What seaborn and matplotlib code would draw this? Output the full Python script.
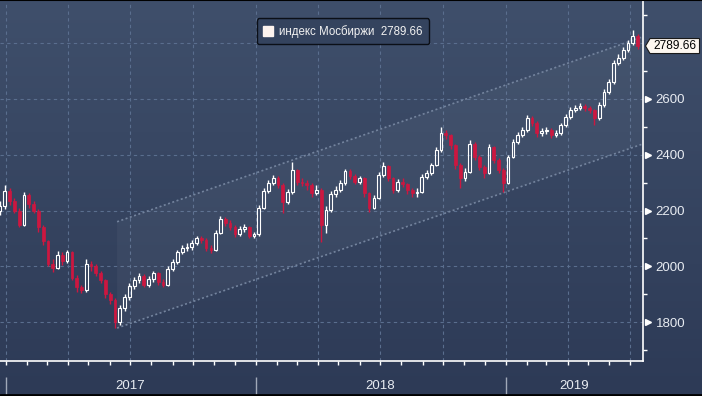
import numpy as np
import pandas as pd
import matplotlib
matplotlib.use('Agg')
import matplotlib.pyplot as plt
import matplotlib.dates as mdates
from matplotlib.lines import Line2D
from matplotlib.patches import Polygon
from matplotlib.colors import LinearSegmentedColormap
from matplotlib.ticker import MultipleLocator, FixedLocator
from matplotlib.transforms import IdentityTransform
import seaborn as sns

# weekly candles of the MOEX index
first_week = '2016-12-23'
first_open = 2200
close = [2215, 2270, 2235, 2200, 2150, 2255, 2225, 2200, 2140, 2090,
         2010, 1995, 2040, 2020, 2050, 1960, 1925, 1915, 2010, 2000,
         1975, 1950, 1900, 1880, 1800, 1850, 1890, 1930, 1950, 1965,
         1935, 1955, 1975, 1945, 1935, 1990, 2015, 2050, 2065, 2070,
         2085, 2100, 2095, 2065, 2060, 2120, 2170, 2155, 2140, 2115,
         2135, 2140, 2110, 2115, 2210, 2270, 2300, 2317, 2292, 2230,
         2267, 2346, 2303, 2300, 2290, 2263, 2274, 2150, 2202, 2260,
         2275, 2299, 2342, 2324, 2303, 2317, 2263, 2210, 2245, 2328,
         2360, 2317, 2274, 2303, 2295, 2274, 2263, 2268, 2320, 2335,
         2363, 2417, 2478, 2470, 2435, 2363, 2317, 2340, 2440, 2392,
         2356, 2335, 2428, 2381, 2346, 2300, 2392, 2446, 2470, 2489,
         2532, 2514, 2478, 2485, 2490, 2471, 2478, 2507, 2535, 2560,
         2568, 2575, 2568, 2560, 2530, 2578, 2625, 2660, 2730, 2747,
         2776, 2800, 2825, 2789.66]
high = [2235, 2292, 2280, 2245, 2210, 2267, 2262, 2235, 2205, 2148,
        2095, 2025, 2055, 2050, 2060, 2055, 1970, 1935, 2025, 2020,
        2010, 1985, 1955, 1910, 1885, 1860, 1900, 1940, 1962, 1975,
        1972, 1965, 1985, 1980, 1955, 2000, 2025, 2060, 2075, 2085,
        2095, 2110, 2108, 2100, 2075, 2130, 2180, 2178, 2165, 2148,
        2145, 2152, 2145, 2122, 2220, 2280, 2310, 2328, 2325, 2298,
        2278, 2374, 2350, 2318, 2310, 2298, 2290, 2280, 2215, 2270,
        2288, 2310, 2350, 2348, 2330, 2325, 2320, 2268, 2255, 2338,
        2374, 2365, 2322, 2312, 2315, 2300, 2282, 2280, 2330, 2345,
        2372, 2428, 2500, 2490, 2475, 2440, 2370, 2352, 2453, 2445,
        2398, 2362, 2438, 2432, 2388, 2352, 2400, 2455, 2480, 2498,
        2542, 2538, 2520, 2495, 2500, 2495, 2488, 2515, 2545, 2570,
        2580, 2585, 2582, 2575, 2565, 2588, 2635, 2670, 2740, 2760,
        2785, 2812, 2847, 2832]
low = [2185, 2205, 2220, 2190, 2141, 2145, 2210, 2190, 2125, 2075,
       2000, 1980, 1990, 2005, 2012, 1950, 1910, 1905, 1910, 1985,
       1965, 1940, 1885, 1865, 1779, 1790, 1840, 1880, 1920, 1940,
       1925, 1925, 1945, 1935, 1925, 1930, 1985, 2010, 2045, 2055,
       2060, 2078, 2085, 2055, 2048, 2055, 2115, 2145, 2130, 2105,
       2108, 2125, 2100, 2100, 2110, 2205, 2262, 2290, 2280, 2191,
       2222, 2260, 2290, 2288, 2275, 2250, 2255, 2087, 2120, 2195,
       2250, 2268, 2292, 2312, 2295, 2295, 2250, 2195, 2205, 2240,
       2320, 2305, 2262, 2268, 2285, 2260, 2250, 2250, 2262, 2312,
       2328, 2358, 2410, 2455, 2420, 2350, 2281, 2305, 2335, 2380,
       2345, 2315, 2330, 2370, 2335, 2267, 2295, 2388, 2440, 2462,
       2482, 2502, 2465, 2468, 2475, 2460, 2462, 2472, 2500, 2528,
       2552, 2560, 2558, 2548, 2507, 2525, 2572, 2618, 2655, 2720,
       2740, 2768, 2795, 2780]

# trend channel drawn on the chart
channel_dates = ['2017-06-12', '2019-07-20']
channel_upper = [2160, 2823]
channel_lower = [1779, 2439]

y_ticks = [1800, 2000, 2200, 2400, 2600, 2800]
y_labels = ['1800', '2000', '2200', '2400', '2600', '']
year_starts = ['2017-01-01', '2018-01-01', '2019-01-01']
year_label_dates = ['2017-07-01', '2018-07-01', '2019-04-11']
year_labels = ['2017', '2018', '2019']
last_value = 2789.66
legend_label = 'индекс Мосбиржи  2789.66'

df = pd.DataFrame({'date': pd.date_range(first_week, periods=len(close), freq='7D'),
                   'close': close, 'high': high, 'low': low})
df['open'] = [first_open] + close[:-1]
df['x'] = mdates.date2num(df['date'])
df['top'] = df[['open', 'close']].max(axis=1)
df['bot'] = df[['open', 'close']].min(axis=1)
up = df[df['close'] >= df['open']]
down = df[df['close'] < df['open']]

sns.set_theme(style='dark')
plt.rcParams['font.family'] = ['Liberation Sans', 'DejaVu Sans']

fig = plt.figure(figsize=(7.02, 3.96), dpi=100)

# gradient background over the whole figure
bg = fig.add_axes([0, 0, 1, 1], zorder=-10)
cmap = LinearSegmentedColormap.from_list('bg', ['#3f4f6b', '#2d3a56'])
bg.imshow(np.linspace(0, 1, 256).reshape(-1, 1), aspect='auto', cmap=cmap, extent=[0, 1, 0, 1])
bg.axis('off')

ax = fig.add_axes([0, 35 / 396, 643 / 702, 360 / 396])
ax.patch.set_alpha(0)

# channel
cx = mdates.date2num(pd.to_datetime(channel_dates))
ax.add_patch(Polygon([(cx[0], channel_upper[0]), (cx[1], channel_upper[1]),
                      (cx[1], channel_lower[1]), (cx[0], channel_lower[0])],
                     closed=True, facecolor='white', alpha=0.04, edgecolor='none', zorder=1))
ax.plot(cx, channel_upper, color='#74849e', lw=1.2, ls=(0, (1.2, 1.5)), zorder=2)
ax.plot(cx, channel_lower, color='#74849e', lw=1.2, ls=(0, (1.2, 1.5)), zorder=2)

# candles
red = '#cc1740'
w = 4
ax.vlines(up['x'], up['low'], up['bot'], color='white', lw=1, zorder=3)
ax.vlines(up['x'], up['top'], up['high'], color='white', lw=1, zorder=3)
ax.bar(up['x'], up['top'] - up['bot'], bottom=up['bot'], width=w,
       facecolor='none', edgecolor='white', lw=0.8, zorder=4)
ax.vlines(down['x'], down['low'], down['high'], color=red, lw=1, zorder=3)
ax.bar(down['x'], down['top'] - down['bot'], bottom=down['bot'], width=w,
       facecolor=red, edgecolor=red, lw=0.5, zorder=4)

ax.set_xlim(mdates.date2num(pd.Timestamp('2016-12-23')), mdates.date2num(pd.Timestamp('2019-07-20')))
ax.set_ylim(1661, 2951)

# grid
grid_kw = dict(color='#5a6e8e', lw=0.8, ls=(0, (3, 3)))
ax.xaxis.set_major_locator(mdates.MonthLocator(bymonth=[1, 4, 7, 10]))
ax.xaxis.set_minor_locator(mdates.MonthLocator())
ax.xaxis.set_major_formatter(plt.NullFormatter())
ax.grid(True, axis='x', which='major', **grid_kw)
ax.yaxis.tick_right()
ax.yaxis.set_major_locator(FixedLocator(y_ticks))
ax.set_yticklabels(y_labels)
ax.yaxis.set_minor_locator(MultipleLocator(100))
ax.grid(True, axis='y', which='major', **grid_kw)
ax.set_axisbelow(True)

for s in ['top', 'left']:
    ax.spines[s].set_visible(False)
for s in ['bottom', 'right']:
    ax.spines[s].set_color('white')
    ax.spines[s].set_linewidth(1.2)

ax.tick_params(axis='x', which='both', bottom=True, direction='out', length=3, width=1, color='white')
ax.tick_params(axis='y', which='major', right=True, length=0, pad=9, labelsize=9.5, labelcolor='#e8ecf2')
ax.tick_params(axis='y', which='minor', right=True, direction='out', length=3, width=1, color='white')

yt = ax.get_yaxis_transform()
ax.plot([1.007] * (len(y_ticks) - 1), y_ticks[:-1], marker='>', ls='none', color='white',
        ms=4.5, transform=yt, clip_on=False)

# year labels and separators
xt = ax.get_xaxis_transform()
ax.vlines(mdates.date2num(pd.to_datetime(year_starts)), -0.044, -0.095, transform=xt,
          colors='#a0a8b8', lw=1, clip_on=False)
for d, t in zip(year_label_dates, year_labels):
    ax.text(mdates.date2num(pd.Timestamp(d)), -0.069, t, transform=xt, ha='center', va='center',
            color='#e8ecf2', fontsize=9.5)

# legend
leg = ax.legend(handles=[Line2D([], [], marker='s', ls='none', color='#fdf3ee', ms=7.5)],
                labels=[legend_label], loc='upper center', bbox_to_anchor=(0.533, 0.968),
                frameon=True, fancybox=True, facecolor='#34435e', edgecolor='#0b0f17',
                framealpha=1, fontsize=8.3, labelcolor='#f2f2f2', handlelength=0.9,
                handletextpad=0.5, borderpad=0.55)
leg.get_frame().set_linewidth(1)

# last value tag
fig.canvas.draw()
yc = ax.transData.transform((0, last_value))[1]
fig.add_artist(Polygon([(645.5, yc), (650, yc + 7.5), (699.5, yc + 7.5), (699.5, yc - 7.5), (650, yc - 7.5)],
                       closed=True, transform=IdentityTransform(), facecolor='#fdf7f0',
                       edgecolor='#1a1a1a', lw=0.8, zorder=20))
fig.add_artist(plt.Text(675, yc, f'{last_value:.2f}', transform=IdentityTransform(), ha='center',
                        va='center', color='black', fontsize=8.6, zorder=21))

# black frame lines at top and bottom
fig.add_artist(Line2D([0, 1], [0.999, 0.999], transform=fig.transFigure, color='black', lw=1.5))
fig.add_artist(Line2D([0, 1], [0.003, 0.003], transform=fig.transFigure, color='black', lw=2))

fig.savefig('out.png', dpi=100)
